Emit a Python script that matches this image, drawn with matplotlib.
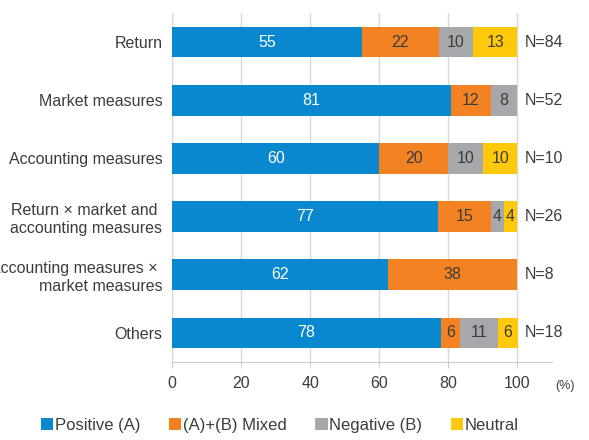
import numpy as np
import matplotlib
matplotlib.use('Agg')
from matplotlib import pyplot as plt
from matplotlib.patches import Patch

plt.rcParams['font.family'] = ['Liberation Sans', 'DejaVu Sans']

# data ========================================================================
categories = [
    'Return',
    'Market measures',
    'Accounting measures',
    'Return \u00d7 market and \naccounting measures',
    'Accounting measures \u00d7 \nmarket measures',
    'Others',
]
series_names = ['Positive (A)', '(A)+(B) Mixed', 'Negative (B)', 'Neutral']
positive = [55.0, 80.8, 60.0, 76.9, 62.5, 77.8]
mixed = [22.2, 11.5, 20.0, 15.4, 37.5, 5.6]
negative = [10.0, 7.7, 10.0, 3.8, 0.0, 11.1]
neutral = [12.8, 0.0, 10.0, 3.8, 0.0, 5.6]
n_labels = ['N=84', 'N=52', 'N=10', 'N=26', 'N=8', 'N=18']
xticks = [0, 20, 40, 60, 80, 100]

colors = ['#0a88cf', '#f28222', '#a7a8ab', '#ffc90a']
text_colors = ['white', '#3c3c3c', '#3c3c3c', '#3c3c3c']
label_color = '#3c3c3c'

# plot ========================================================================
fig = plt.figure(figsize=(5.89, 4.4), dpi=100)
ax = fig.add_axes([172 / 589, 1 - 362 / 440, 380 / 589, 349 / 440])

y = np.arange(len(categories))
left = np.zeros(len(categories))
for vals, color, tcolor in zip([positive, mixed, negative, neutral], colors, text_colors):
    vals = np.array(vals)
    ax.barh(y, vals, left=left, height=0.53, color=color, zorder=3)
    for yi, (l, v) in enumerate(zip(left, vals)):
        if v > 0:
            ax.text(l + v / 2, yi, f'{v:.0f}', ha='center', va='center',
                    color=tcolor, fontsize=11.5, zorder=4)
    left += vals

for yi, n in enumerate(n_labels):
    ax.text(102, yi, n, ha='left', va='center', color=label_color, fontsize=11.5)

ax.set_xlim(0, 110)
ax.set_ylim(len(categories) - 0.5, -0.5)
ax.set_xticks(xticks)
ax.set_xticklabels([str(t) for t in xticks], fontsize=11.5, color=label_color)
ax.set_yticks(y)
ax.set_yticklabels(categories, fontsize=11.5, color=label_color, linespacing=1.25)
ax.tick_params(axis='y', length=0, pad=7)
ax.tick_params(axis='x', length=4, color='#cccccc', pad=6)

ax.grid(axis='x', color='#d9d9d9', lw=1, zorder=0)
for s in ['top', 'right', 'left']:
    ax.spines[s].set_visible(False)
ax.spines['bottom'].set_color('#cccccc')
ax.axvline(0, color='#cccccc', lw=1, zorder=1)

fig.text(565 / 589, 1 - 386 / 440, '(%)', ha='center', va='center',
         fontsize=9, color=label_color)

handles = [Patch(facecolor=c, edgecolor='none') for c in colors]
fig.legend(handles, series_names, loc='center', bbox_to_anchor=(0.475, 1 - 425 / 440),
           ncol=4, frameon=False, fontsize=12, handlelength=0.75, handleheight=0.75,
           handletextpad=0.1, columnspacing=1.7, labelcolor=label_color)

fig.savefig('out.png', dpi=100)
